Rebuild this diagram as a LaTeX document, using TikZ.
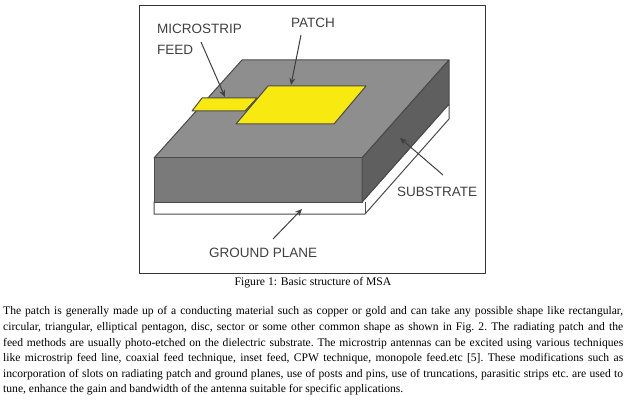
\documentclass[tikz,border=0pt]{standalone}
\usepackage{fontspec}
\usetikzlibrary{arrows.meta}
\setmainfont{Liberation Serif}
\setsansfont{Liberation Sans}
\definecolor{topgray}{HTML}{8E8E8E}
\definecolor{frontgray}{HTML}{7A7A7A}
\definecolor{sidegray}{HTML}{5F5F5F}
\definecolor{edgegray}{HTML}{4A4A4A}
\definecolor{patchyellow}{HTML}{F8EA10}
\definecolor{labelgray}{HTML}{404040}
\tikzset{
	solid face/.style={draw=edgegray,line width=1pt,fill=#1},
	part label/.style={font=\sffamily\fontsize{13.5}{16}\selectfont,text=labelgray,inner sep=0pt},
	part arrow/.style={-{Stealth[length=7pt,width=6pt]},draw=labelgray,line width=1pt},
	body text/.style={font=\frenchspacing\fontsize{11.6}{15.6}\selectfont,inner sep=0pt}
}
\begin{document}
\begin{tikzpicture}[x=1pt,y=-1pt,line join=round]
	\useasboundingbox (0,0) rectangle (641,404);
	\fill[white] (0,0) rectangle (641,404);
	
	% cut off line above the figure
	\node[body text,anchor=base west] (cutleft) at (27,-5) {pp};
	\node[body text,anchor=base west] (cutright) at (156,-5) {g};
	
	\draw[line width=0.9pt,draw=black!80] (139,5) rectangle (485,273);
	
	% ground plane
	\draw[solid face=white] (154,202)--(154,214)--(365,214)--(449,119)--(449,104)--(362,202)--cycle;
	\draw[edgegray,line width=1pt] (365,214)--(365,202);
	
	% substrate
	\draw[solid face=topgray] (242,60)--(449,60)--(362,158)--(154,158)--cycle;
	\draw[solid face=frontgray] (154,158)--(362,158)--(362,202)--(154,202)--cycle;
	\draw[solid face=sidegray] (362,158)--(449,60)--(449,104)--(362,202)--cycle;
	
	% feed and patch
	\draw[solid face=patchyellow] (202,98)--(257,98)--(245,111)--(192,111)--cycle;
	\draw[solid face=patchyellow] (268,86)--(366,86)--(334,124)--(236,124)--cycle;
	
	\node[part label,anchor=west] (labelfeedA) at (157,29) {MICROSTRIP};
	\node[part label,anchor=west] (labelfeedB) at (157,50) {FEED};
	\node[part label,anchor=west] (labelpatch) at (291,23) {PATCH};
	\node[part label,anchor=west] (labelsubstrate) at (397,192) {SUBSTRATE};
	\node[part label,anchor=west] (labelground) at (209,253) {GROUND PLANE};
	
	\coordinate (feedstart) at (201,42);
	\coordinate (feedtip) at (225,97);
	\coordinate (patchstart) at (301,35);
	\coordinate (patchtip) at (291,85);
	\coordinate (substratestart) at (443,175);
	\coordinate (substratetip) at (400,138);
	\coordinate (groundstart) at (273,239);
	\coordinate (groundtip) at (302,209);
	\draw[part arrow] (feedstart)--(feedtip);
	\draw[part arrow] (patchstart)--(patchtip);
	\draw[part arrow] (substratestart)--(substratetip);
	\draw[part arrow] (groundstart)--(groundtip);
	
	\node[font=\fontsize{11.65}{14}\selectfont,inner sep=0pt] (caption) at (313,283) {Figure 1: Basic structure of MSA};
	
	\node[body text,text width=620pt,align=justify,anchor=north west] (para) at (3,306.5) {The patch is generally made up of a conducting material such as copper or gold and can take any possible shape like rectangular,\linebreak
	circular, triangular, elliptical pentagon, disc, sector or some other common shape as shown in Fig. 2. The radiating patch and the\linebreak
	feed methods are usually photo-etched on the dielectric substrate. The microstrip antennas can be excited using various techniques\linebreak
	like microstrip feed line, coaxial feed technique, inset feed, CPW technique, monopole feed.etc [5]. These modifications such as\linebreak
	incorporation of slots on radiating patch and ground planes, use of posts and pins, use of truncations, parasitic strips etc. are used to\linebreak
	tune, enhance the gain and bandwidth of the antenna suitable for specific applications.};
\end{tikzpicture}
\end{document}
